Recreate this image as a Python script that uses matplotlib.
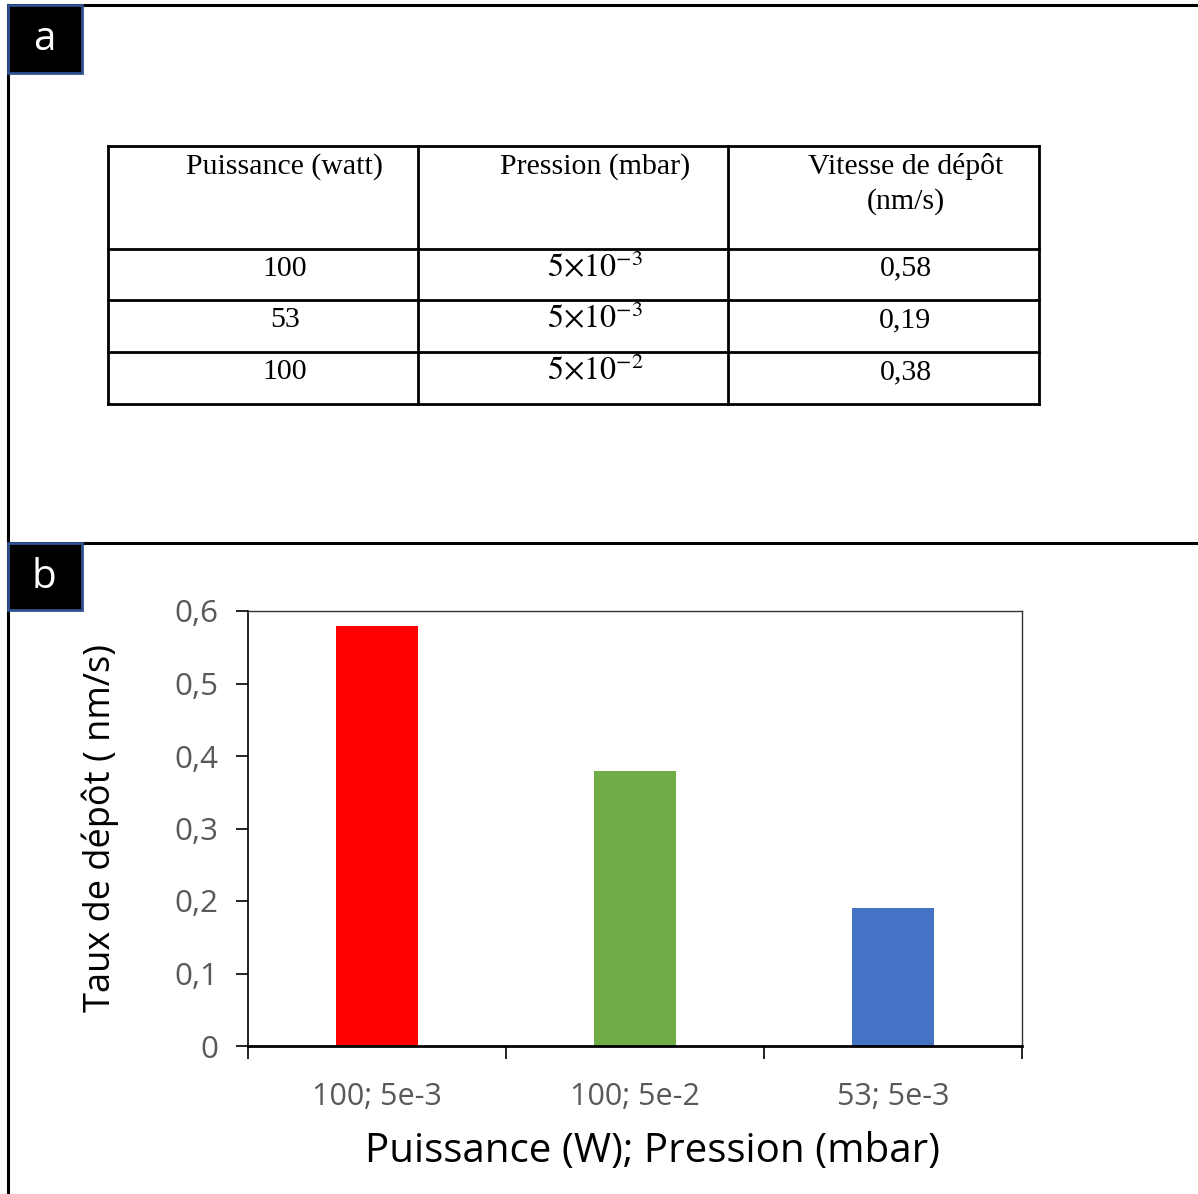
import matplotlib.pyplot as plt
from matplotlib.patches import Rectangle

# table (panel a)
header = ['Puissance (watt)', 'Pression (mbar)', 'Vitesse de dépôt\n(nm/s)']
puissance = ['100', '53', '100']
pression = [r'$5{\times}10^{-3}$', r'$5{\times}10^{-3}$', r'$5{\times}10^{-2}$']
vitesse = ['0,58', '0,19', '0,38']

# bar chart (panel b)
categories = ['100; 5e-3', '100; 5e-2', '53; 5e-3']
taux = [0.58, 0.38, 0.19]
colors = ['#FF0000', '#70AD47', '#4472C4']
yticks = [0, 0.1, 0.2, 0.3, 0.4, 0.5, 0.6]

plt.rcParams['mathtext.fontset'] = 'stix'
W, H = 1198, 1194
fig = plt.figure(figsize=(W / 100, H / 100), dpi=100)

bg = fig.add_axes([0, 0, 1, 1])
bg.set_xlim(0, W)
bg.set_ylim(H, 0)
bg.axis('off')

# frame lines
bg.plot([8, W], [5, 5], color='black', lw=2.2)
bg.plot([8, 8], [5, H], color='black', lw=2.2)
bg.plot([8, W], [543, 543], color='black', lw=2.2)

# panel labels
for lab, y0, y1 in [('a', 5, 73), ('b', 543, 610)]:
    bg.add_patch(Rectangle((8, y0), 74, y1 - y0, facecolor='black',
                           edgecolor='#2F528F', lw=2, zorder=3))
    bg.text(44, (y0 + y1) / 2 + 1, lab, color='white', fontsize=29,
            family='Open Sans', ha='center', va='center', zorder=4)

# table grid
cols = [108, 418, 728, 1039]
rows = [146, 249, 300, 352, 404]
for x in cols:
    bg.plot([x, x], [rows[0], rows[-1]], color='black', lw=2)
for y in rows:
    bg.plot([cols[0], cols[-1]], [y, y], color='black', lw=2)

serif = 'Liberation Serif'
for j, h in enumerate(header):
    cx = (cols[j] + cols[j + 1]) / 2 + 22
    bg.text(cx, rows[0] + 7, h, family=serif, fontsize=21.5, ha='center',
            va='top', linespacing=1.4)
for i in range(3):
    cy = (rows[i + 1] + rows[i + 2]) / 2 - 6
    vals = [puissance[i], pression[i], vitesse[i]]
    for j, v in enumerate(vals):
        cx = (cols[j] + cols[j + 1]) / 2 + 22
        fs = 23 if j == 1 else 21.5
        bg.text(cx, cy, v, family=serif, fontsize=fs, ha='center', va='center')

# chart
ax = fig.add_axes([248 / W, (H - 1046) / H, (1022 - 248) / W, (1046 - 611) / H])
x = range(len(categories))
ax.bar(x, taux, width=0.32, color=colors, zorder=2)
ax.set_xlim(-0.5, 2.5)
ax.set_ylim(0, 0.6)
ax.set_yticks(yticks)
ax.set_yticklabels(['0' if v == 0 else f'{v:.1f}'.replace('.', ',') for v in yticks])
ax.set_xticks(list(x))
ax.set_xticklabels(categories)
ax.set_xticks([-0.5, 0.5, 1.5, 2.5], minor=True)
ax.tick_params(axis='x', which='major', length=0, pad=26, labelsize=22,
               labelcolor='#595959')
ax.tick_params(axis='x', which='minor', length=9, width=1.2, direction='out')
ax.tick_params(axis='y', length=9, width=1.2, pad=12, labelsize=22.5,
               labelcolor='#595959')
for lbl in ax.get_xticklabels() + ax.get_yticklabels():
    lbl.set_family('Open Sans')
ax.spines['left'].set_linewidth(1.2)
ax.spines['bottom'].set_linewidth(2)
for s in ['top', 'right']:
    ax.spines[s].set_linewidth(1)
    ax.spines[s].set_color('#333333')

ax.set_ylabel('Taux de dépôt ( nm/s)', fontsize=26, family='Open Sans', labelpad=40)
ax.set_xlabel('Puissance (W); Pression (mbar)', fontsize=29, family='Open Sans',
              labelpad=14)
ax.xaxis.label.set_x(0.523)

fig.savefig('out.png', dpi=100)
